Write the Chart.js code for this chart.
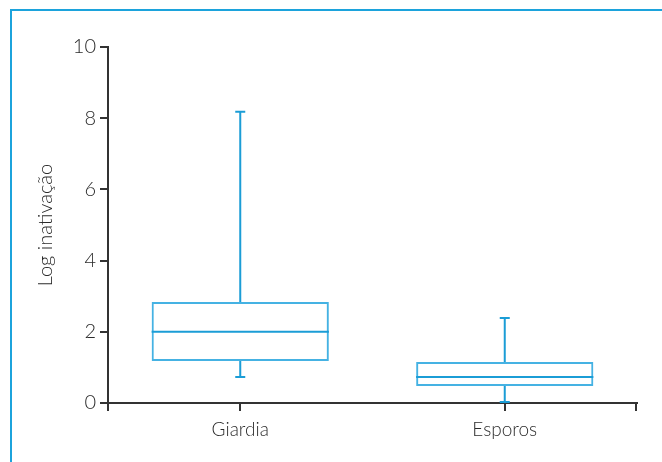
<!DOCTYPE html>
<html>
<head>
<meta charset="utf-8">
<script src="https://cdn.jsdelivr.net/npm/chart.js@4"></script>
<style>
  html, body { margin: 0; padding: 0; background: #fff; }
  #wrap { position: relative; width: 662px; height: 462px; }
  #frame { position: absolute; left: 10px; top: 9px; right: 0; bottom: 0;
           border-left: 2px solid #1ca3dc; border-top: 2px solid #1ca3dc; }
  canvas { position: absolute; left: 0; top: 0; }
</style>
</head>
<body>
<div id="wrap">
  <div id="frame"></div>
  <canvas id="chart" width="662" height="462"></canvas>
</div>
<script>
// data
const categories = ['Giardia', 'Esporos'];
const minValues = [0.73, 0.03];
const q1Values = [1.18, 0.48];
const medianValues = [2.0, 0.73];
const q3Values = [2.84, 1.15];
const maxValues = [8.18, 2.39];
const yTicks = [0, 2, 4, 6, 8, 10];

const axisColor = '#333333';
const boxColor = '#45b2e3';
const lineColor = '#1b9dd6';
const fontFamily = 'Lato, "Open Sans", sans-serif';

// whiskers, caps and median line drawn from the bar elements and the y scale
const boxPlotLines = {
    id: 'boxPlotLines',
    afterDatasetsDraw(chart) {
        const ctx = chart.ctx;
        const y = chart.scales.y;
        const meta = chart.getDatasetMeta(0);
        ctx.save();
        meta.data.forEach(function(bar, i) {
            const half = bar.width / 2;
            const cap = 5;
            ctx.strokeStyle = lineColor;
            ctx.lineWidth = 2;
            ctx.beginPath();
            // median
            ctx.moveTo(bar.x - half, y.getPixelForValue(medianValues[i]));
            ctx.lineTo(bar.x + half, y.getPixelForValue(medianValues[i]));
            // upper whisker
            ctx.moveTo(bar.x, y.getPixelForValue(q3Values[i]));
            ctx.lineTo(bar.x, y.getPixelForValue(maxValues[i]));
            ctx.moveTo(bar.x - cap, y.getPixelForValue(maxValues[i]));
            ctx.lineTo(bar.x + cap, y.getPixelForValue(maxValues[i]));
            // lower whisker
            ctx.moveTo(bar.x, y.getPixelForValue(q1Values[i]));
            ctx.lineTo(bar.x, y.getPixelForValue(minValues[i]));
            ctx.moveTo(bar.x - cap, y.getPixelForValue(minValues[i]));
            ctx.lineTo(bar.x + cap, y.getPixelForValue(minValues[i]));
            ctx.stroke();
        });
        ctx.restore();
    }
};

// end ticks of the x axis (left one continues the y axis downward)
const axisEnds = {
    id: 'axisEnds',
    afterDraw(chart) {
        const ctx = chart.ctx;
        const area = chart.chartArea;
        ctx.save();
        ctx.strokeStyle = axisColor;
        ctx.lineWidth = 2;
        ctx.beginPath();
        ctx.moveTo(area.left, area.bottom);
        ctx.lineTo(area.left, area.bottom + 8);
        ctx.moveTo(area.right - 1, area.bottom);
        ctx.lineTo(area.right - 1, area.bottom + 8);
        ctx.stroke();
        ctx.restore();
    }
};

const ctx = document.getElementById('chart').getContext('2d');
const chart = new Chart(ctx, {
    type: 'bar',
    data: {
        labels: categories,
        datasets: [{
            label: 'Log inativação',
            data: q1Values.map(function(q1, i) { return [q1, q3Values[i]]; }),
            backgroundColor: 'rgba(0,0,0,0)',
            borderColor: boxColor,
            borderWidth: 2,
            borderSkipped: false,
            barPercentage: 0.67,
            categoryPercentage: 1
        }]
    },
    options: {
        responsive: false,
        animation: false,
        layout: { padding: { left: 0, right: 25, top: 47, bottom: 0 } },
        plugins: {
            legend: { display: false },
            tooltip: { enabled: false }
        },
        scales: {
            x: {
                grid: { display: true, offset: false, drawOnChartArea: false,
                        tickLength: 8, color: axisColor, lineWidth: 2 },
                border: { display: true, color: axisColor, width: 2 },
                ticks: { color: '#2b2b2b', padding: 7,
                         font: { family: fontFamily, size: 19, weight: 300 } },
                afterFit: function(scale) { scale.height = 59; }
            },
            y: {
                min: 0,
                max: 10,
                afterBuildTicks: function(scale) {
                    scale.ticks = yTicks.map(function(v) { return { value: v }; });
                },
                grid: { display: true, drawOnChartArea: false,
                        tickLength: 8, color: axisColor, lineWidth: 2 },
                border: { display: true, color: axisColor, width: 2 },
                ticks: { color: '#2b2b2b', padding: 4,
                         font: { family: fontFamily, size: 20, weight: 300 } },
                title: { display: true, text: 'Log inativação', color: '#2b2b2b',
                         padding: { top: 34, bottom: 0 },
                         font: { family: fontFamily, size: 20, weight: 300 } },
                afterFit: function(scale) { scale.width = 108; }
            }
        }
    },
    plugins: [boxPlotLines, axisEnds]
});
</script>
</body>
</html>
